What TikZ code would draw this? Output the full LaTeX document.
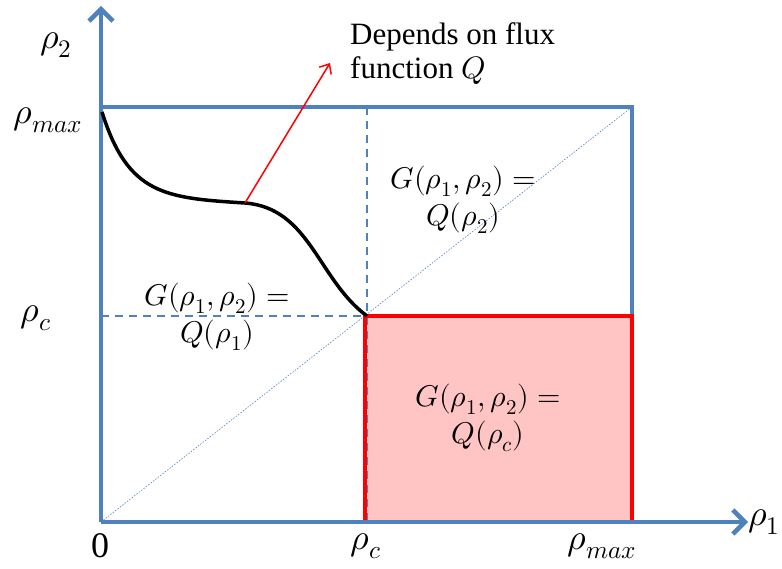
\documentclass[tikz,border=0pt]{standalone}
\usepackage{fontspec}
\usepackage{unicode-math}
\setmainfont{Liberation Serif}
\setmathfont{Latin Modern Math}
\usetikzlibrary{arrows.meta}
\definecolor{axblue}{HTML}{4F81BD}
\definecolor{pinkfill}{HTML}{FFC4C4}
\begin{document}
\begin{tikzpicture}[x=1pt,y=-1pt,
  lab/.style={font=\fontsize{36}{40}\selectfont, inner sep=0pt},
  eq/.style={font=\fontsize{30}{37}\selectfont, align=center, inner sep=0pt},
  axis/.style={axblue, line width=4.5pt, -{Straight Barb[length=12pt,width=24pt,line width=4.5pt]}},
  frame/.style={axblue, line width=4pt},
  guide/.style={axblue, line width=1.5pt, dash pattern=on 8pt off 6pt}]
\useasboundingbox (0,0) rectangle (782,569);
\coordinate (O) at (101,522);
\coordinate (ytip) at (101,6);
\coordinate (xtip) at (748,522);
\coordinate (TL) at (101,107);
\coordinate (TR) at (632,107);
\coordinate (BR) at (632,522);
\coordinate (C) at (367,316);
\coordinate (Ctop) at (367,107);
\coordinate (Cbot) at (367,522);
\coordinate (Cleft) at (101,316);
% red region
\fill[pinkfill] (365,316) rectangle (632,522);
% guides
\draw[guide] (Ctop) -- (Cbot);
\draw[guide] (Cleft) -- (C);
\draw[axblue, line width=0.6pt, dash pattern=on 1.5pt off 1.5pt] (O) -- (TR);
% frame
\draw[frame] (TL) -- (TR) -- (BR);
\draw[red, line width=4pt] (365,316) rectangle (632,522);
% axes
\draw[axis] (O) -- (ytip);
\draw[axis] (O) -- (xtip);
% curve
\coordinate (mid) at (245,203);
\draw[black, line width=3.5pt] (102,112) .. controls (128,195) and (165,198) .. (mid) .. controls (310,208) and (318,280) .. (C);
% red arrow
\coordinate (rtip) at (330,63);
\draw[red, line width=1.5pt, -{Straight Barb[length=8pt,width=14pt,line width=1.5pt]}] (mid) -- (rtip);
% labels
\node[lab] (r2) at (56,45) {$\rho_2$};
\node[lab] (rmaxl) at (48,120) {$\rho_{max}$};
\node[lab] (rcl) at (36,318) {$\rho_c$};
\node[lab] (zero) at (100,546) {0};
\node[lab] (rcb) at (366,546) {$\rho_c$};
\node[lab] (rmaxb) at (602,546) {$\rho_{max}$};
\node[lab] (r1) at (764,522) {$\rho_1$};
\node[font=\fontsize{31}{34}\selectfont, align=left, anchor=north west, inner sep=0pt] (dep) at (350,22) {Depends on flux\\function $Q$};
\node[eq] (g2) at (463,200) {$G(\rho_1,\rho_2)=$\\$Q(\rho_2)$};
\node[eq] (g1) at (217,317) {$G(\rho_1,\rho_2)=$\\$Q(\rho_1)$};
\node[eq] (gc) at (488,418) {$G(\rho_1,\rho_2)=$\\$Q(\rho_c)$};
\end{tikzpicture}
\end{document}
